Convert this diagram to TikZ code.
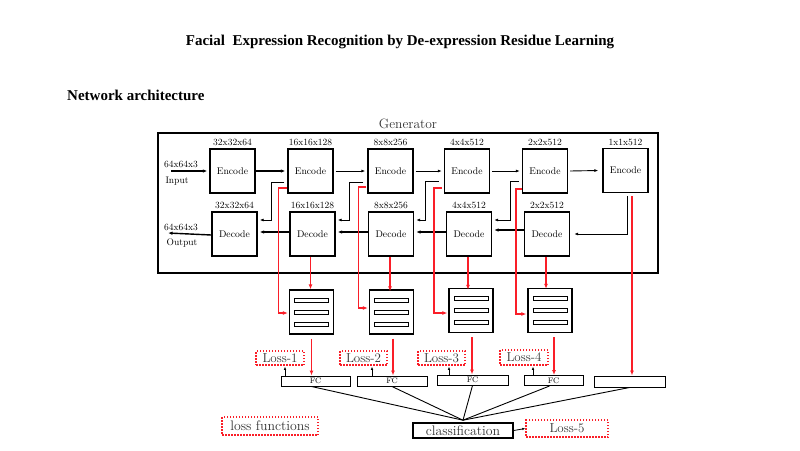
\documentclass[tikz,border=0pt]{standalone}
\usepackage{fontspec}
\newfontfamily\titlefont{Liberation Serif}
\usetikzlibrary{arrows.meta,calc}
\definecolor{myred}{RGB}{250,30,40}
\begin{document}
\begin{tikzpicture}[x=1pt,y=-1pt,
  frame/.style={draw,line width=1.4pt,inner sep=0pt,minimum width=500pt,minimum height=140pt},
  box/.style={draw,line width=1.3pt,inner sep=0pt,minimum width=45pt,minimum height=44pt,font=\fontsize{9.7}{10}\selectfont},
  dim/.style={font=\fontsize{9.5}{10}\selectfont,inner sep=0pt,anchor=south},
  iolab/.style={font=\fontsize{9.5}{10}\selectfont,inner sep=0pt},
  fwd/.style={-{Latex[length=4pt,width=3pt]},line width=0.9pt},
  fwdthick/.style={-{Latex[length=4.5pt,width=3.5pt]},line width=1.4pt},
  skip/.style={-{Latex[length=4pt,width=3pt]},line width=0.8pt},
  redarr/.style={-{Latex[length=5pt,width=4pt]},line width=1.3pt,draw=myred,color=myred},
  redthick/.style={-{Latex[length=5pt,width=4pt]},line width=1.8pt,draw=myred,color=myred},
  feat/.style={draw,line width=1.3pt,inner sep=0pt,minimum width=44pt,minimum height=44pt},
  bar/.style={draw,line width=0.9pt},
  fc/.style={draw,line width=1pt,inner sep=0pt,minimum height=10pt,font=\fontsize{8}{8}\selectfont},
  lossbox/.style={draw=myred,line width=1.5pt,dash pattern=on 1.5pt off 1.5pt,inner sep=0pt,font=\fontsize{13}{13}\selectfont,text=black!80},
  smallarr/.style={-{Latex[length=3pt,width=2.5pt]},line width=0.8pt},
  conn/.style={line width=0.9pt},
]
\useasboundingbox (0,0) rectangle (800,450);
% titles
\node[font=\titlefont\bfseries\fontsize{15}{17}\selectfont,inner sep=0pt] (title) at (400,42) {Facial\ \ Expression Recognition by De-expression Residue Learning};
\node[font=\titlefont\bfseries\fontsize{15}{17}\selectfont,inner sep=0pt,anchor=west] (net) at (67,95) {Network architecture};
% generator frame
\node[frame] (gen) at (408,203) {};
\node[font=\fontsize{13.5}{14}\selectfont,inner sep=0pt,anchor=south,text=black!80] (genlab) at ([yshift=3pt]gen.north) {Generator};
% encoders
\node[box] (E1) at (232.5,171) {Encode};
\node[box] (E2) at (310.5,171) {Encode};
\node[box] (E3) at (390.5,171) {Encode};
\node[box] (E4) at (467,171) {Encode};
\node[box] (E5) at (545,171) {Encode};
\node[box] (E6) at (625.5,170.5) {Encode};
\node[dim] (e1d) at ([yshift=2pt]E1.north) {32x32x64};
\node[dim] (e2d) at ([yshift=2pt]E2.north) {16x16x128};
\node[dim] (e3d) at ([yshift=2pt]E3.north) {8x8x256};
\node[dim] (e4d) at ([yshift=2pt]E4.north) {4x4x512};
\node[dim] (e5d) at ([yshift=2pt]E5.north) {2x2x512};
\node[dim] (e6d) at ([yshift=2pt]E6.north) {1x1x512};
% decoders
\node[box] (D1) at (234.5,234) {Decode};
\node[box] (D2) at (312.5,234) {Decode};
\node[box] (D3) at (391,234) {Decode};
\node[box] (D4) at (469,234) {Decode};
\node[box] (D5) at (547,234) {Decode};
\node[dim] (d1d) at ([yshift=2pt]D1.north) {32x32x64};
\node[dim] (d2d) at ([yshift=2pt]D2.north) {16x16x128};
\node[dim] (d3d) at ([yshift=2pt]D3.north) {8x8x256};
\node[dim] (d4d) at ([yshift=2pt]D4.north) {4x4x512};
\node[dim] (d5d) at ([yshift=2pt]D5.north) {2x2x512};
% input / output
\node[iolab] (in) at (181,164) {64x64x3};
\node[iolab] (inlab) at (177,181) {Input};
\node[iolab] (out) at (181,227) {64x64x3};
\node[iolab] (outlab) at (182,243) {Output};
\coordinate (inS) at (171,171);
\coordinate (outE) at (168,233);
\draw[fwdthick] (inS) -- ([xshift=-2pt]E1.west);
\draw[fwdthick] (E1.east) -- ([xshift=-2pt]E2.west);
\draw[fwd] ([xshift=2pt]E2.east) -- ([xshift=-2pt]E3.west);
\draw[fwd] ([xshift=2pt]E3.east) -- ([xshift=-2pt]E4.west);
\draw[fwd] ([xshift=2pt]E4.east) -- ([xshift=-2pt]E5.west);
\draw[fwd] ([xshift=2pt]E5.east) -- ([xshift=-4pt]E6.west);
% decoder backward
\draw[fwdthick] ([yshift=-1pt]D1.west) -- (outE);
\draw[fwdthick] ([yshift=2pt]D2.west) -- ([xshift=2pt,yshift=2pt]D1.east);
\draw[fwdthick] ([yshift=2pt]D3.west) -- ([xshift=2pt,yshift=2pt]D2.east);
\draw[fwdthick] ([yshift=2pt]D4.west) -- ([xshift=2pt,yshift=2pt]D3.east);
\draw[fwdthick] ([yshift=4pt]D5.west) -- ([xshift=2pt,yshift=4pt]D4.east);
% skip connections
\draw[skip] ([xshift=-3pt,yshift=-11pt]E2.west) -- ++(-13,0) |- ([xshift=2pt,yshift=14pt]D1.east);
\draw[skip] ([xshift=-4pt,yshift=-11pt]E3.west) -- ++(-14,0) |- ([xshift=2pt,yshift=14pt]D2.east);
\draw[skip] ([xshift=-5pt,yshift=-10pt]E4.west) -- ++(-13,0) |- ([xshift=2pt,yshift=14pt]D3.east);
\draw[skip] ([xshift=-3pt,yshift=-10pt]E5.west) -- ++(-8,0) |- ([xshift=2pt,yshift=14pt]D4.east);
\draw[skip] ([xshift=1.5pt,yshift=-3pt]E6.south) |- ([xshift=4pt]D5.east);
% feature boxes
\node[feat] (F1) at (311.5,312) {};
\node[feat] (F2) at (391.5,312) {};
\node[feat] (F3) at (471,310.5) {};
\node[feat] (F4) at (550,310.5) {};
\foreach \f in {F1,F2,F3,F4}{
  \foreach \dy in {-12,0,12}{
    \draw[bar] ([shift={(-17,\dy-2)}]\f.center) rectangle ++(34,4);
  }
}
% red from encoders to feature boxes
\draw[redarr] ([yshift=-17pt]E2.west) -- ++(-9,0) |- ([xshift=-1pt,yshift=-1pt]F1.west);
\draw[redarr] ([xshift=-1pt,yshift=-16pt]E3.west) -- ++(-8,0) |- ([xshift=-1pt,yshift=4pt]F2.west);
\draw[redarr] ([xshift=-2pt,yshift=-17pt]E4.west) -- ++(-8,0) |- ([xshift=-1pt,yshift=-2.5pt]F3.west);
\draw[redarr] ([yshift=-18pt]E5.west) -- ++(-6,0) |- ([xshift=-1pt,yshift=-3.5pt]F4.west);
% red from decoders to feature boxes
\draw[redarr] ([xshift=-2pt]D2.south) -- ([xshift=-2pt]D2.south |- F1.north);
\draw[redarr] ([xshift=-1pt]D3.south) -- ([xshift=-1pt,yshift=-2pt]D3.south |- F2.north);
\draw[redarr] ([xshift=-1pt]D4.south) -- ([xshift=-1pt,yshift=-2pt]D4.south |- F3.north);
\draw[redarr] ([xshift=-1pt]D5.south) -- ([xshift=-1pt,yshift=-1pt]D5.south |- F4.north);
% FC boxes
\node[fc,minimum width=69pt] (FC1) at (315.5,381) {FC};
\node[fc,minimum width=70pt] (FC2) at (392,381) {FC};
\node[fc,minimum width=71pt] (FC3) at (472.5,380) {FC};
\node[fc,minimum width=59pt] (FC4) at (553.5,380.5) {FC};
\node[fc,minimum width=71pt,minimum height=11pt] (FC6) at (629.5,381.5) {};
% red from feature boxes to FC
\draw[redthick] ([yshift=-4pt]F1.south) -- (F1.south |- FC1.north);
\draw[redthick] ([xshift=1.5pt,yshift=-4pt]F2.south) -- ([xshift=1.5pt]F2.south |- FC2.north);
\draw[redthick] ([xshift=1pt,yshift=-4pt]F3.south) -- ([xshift=1pt]F3.south |- FC3.north);
\draw[redthick] ([xshift=4pt,yshift=-4pt]F4.south) -- ([xshift=4pt]F4.south |- FC4.north);
\draw[redthick] ([xshift=6.5pt,yshift=-3pt]E6.south) -- ([xshift=6.5pt]E6.south |- FC6.north);
% loss boxes
\node[lossbox,minimum width=48pt,minimum height=14pt] (L1) at (280,358) {Loss-1};
\node[lossbox,minimum width=47pt,minimum height=14pt] (L2) at (363.5,358) {Loss-2};
\node[lossbox,minimum width=47pt,minimum height=14pt] (L3) at (441.5,358) {Loss-3};
\node[lossbox,minimum width=48pt,minimum height=15pt] (L4) at (524,357.5) {Loss-4};
\draw[smallarr] ([xshift=5pt]L1.south |- FC1.north) -- ([xshift=5pt,yshift=-1pt]L1.south);
\draw[smallarr] ([xshift=8.5pt]L2.south |- FC2.north) -- ([xshift=8.5pt,yshift=-1pt]L2.south);
\draw[smallarr] ([xshift=7.5pt]L3.south |- FC3.north) -- ([xshift=7.5pt,yshift=-1pt]L3.south);
\draw[smallarr] ([xshift=9pt]L4.south |- FC4.north) -- ([xshift=9pt,yshift=-1pt]L4.south);
% bottom
\node[lossbox,minimum width=96pt,minimum height=18pt,font=\fontsize{13.8}{14}\selectfont] (lf) at (270,426) {loss functions};
\node[draw,line width=1.6pt,inner sep=0pt,minimum width=100pt,minimum height=15pt,font=\fontsize{13.8}{14}\selectfont,text=black!80] (cls) at (463,430.5) {classification};
\node[lossbox,minimum width=82pt,minimum height=17pt] (L5) at (567,428.5) {Loss-5};
\draw[smallarr] (cls.east) -- (L5.west);
\coordinate (conv) at ([yshift=2pt]cls.north);
\draw[conn] ([xshift=-4pt]FC1.south) -- (conv);
\draw[conn] (FC2.south) -- (conv);
\draw[conn] (FC3.south) -- (conv);
\draw[conn] ([xshift=-4pt]FC4.south) -- (conv);
\draw[conn] (FC6.south) -- (conv);
\end{tikzpicture}
\end{document}
